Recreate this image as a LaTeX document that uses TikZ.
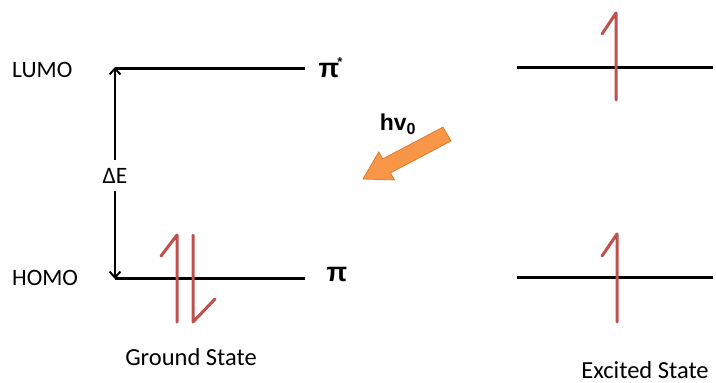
\documentclass[tikz,border=0pt]{standalone}
\usepackage{fontspec}
\setmainfont{Carlito}
\newfontfamily\arialfont{Liberation Sans}
\usetikzlibrary{arrows.meta,calc}
\definecolor{elred}{HTML}{C0504D}
\definecolor{orfill}{HTML}{F79646}
\definecolor{ordraw}{HTML}{E07A30}
\tikzset{
  level/.style={line width=3pt,black},
  spin/.style={line width=3pt,elred,line join=round,line cap=round},
  lbl/.style={font=\fontsize{23.5}{25}\selectfont,inner sep=0pt},
  captxt/.style={font=\fontsize{24.5}{26}\selectfont,inner sep=0pt},
  orb/.style={font=\arialfont\fontsize{27}{28}\selectfont\bfseries,inner sep=0pt},
}
\begin{document}
\begin{tikzpicture}[x=1pt,y=-1pt]
\useasboundingbox (0,0) rectangle (716,383);
% levels
\coordinate (gL1) at (115,68);
\coordinate (gL2) at (305,68);
\coordinate (gH1) at (115,278);
\coordinate (gH2) at (305,278);
\coordinate (eL1) at (517,67);
\coordinate (eL2) at (713,67);
\coordinate (eH1) at (517,277);
\coordinate (eH2) at (713,277);
\draw[level] (gL1) -- (gL2);
\draw[level] (gH1) -- (gH2);
\draw[level] (eL1) -- (eL2);
\draw[level] (eH1) -- (eH2);
% labels
\node[lbl,anchor=base west] (lumo) at (12,77) {LUMO};
\node[lbl,anchor=base west] (homo) at (12,285) {HOMO};
\node[orb] (pistar) at (329,70) {π};
\node[font=\arialfont\fontsize{13}{13}\selectfont\bfseries,inner sep=0pt] (star) at (340,62) {*};
\node[orb] (pi) at (337,274) {π};
% Delta E arrow
\node[lbl,fill=white,inner ysep=8pt,anchor=base] (dE) at (115,183) {ΔE};
\draw[line width=2pt,-{Straight Barb[length=6pt,width=11pt]}] (dE.north) -- ($(gL1)+(0,-1)$);
\draw[line width=2pt,-{Straight Barb[length=6pt,width=11pt]}] (dE.south) -- ($(gH1)+(0,1)$);
% ground state electrons
\coordinate (u1t) at (177,235);
\coordinate (u1b) at (177,322);
\coordinate (u1w) at (161,256);
\draw[spin] (u1w) -- (u1t) -- (u1b);
\coordinate (d1t) at (193,235);
\coordinate (d1b) at (193,322);
\coordinate (d1w) at (215,299);
\draw[spin] (d1t) -- (d1b) -- (d1w);
% excited state electrons
\coordinate (u2t) at (616,13);
\coordinate (u2b) at (616,100);
\coordinate (u2w) at (602,34);
\draw[spin] (u2w) -- (u2t) -- (u2b);
\coordinate (u3t) at (617,234);
\coordinate (u3b) at (617,322);
\coordinate (u3w) at (602,256);
\draw[spin] (u3w) -- (u3t) -- (u3b);
% photon arrow
\draw[ordraw,fill=orfill,line width=0.8pt,line join=miter]
  (450.9,141) -- (390.5,172.9) -- (394.4,179.9) -- (363,179)
  -- (378.8,151.9) -- (382.7,158.9) -- (443.1,127.1) -- cycle;
\node[font=\arialfont\fontsize{23}{26}\selectfont\bfseries,inner sep=0pt] (hv) at (398,124) {hv\textsubscript{0}};
% state captions
\node[captxt,anchor=base] (gs) at (191,365) {Ground State};
\node[captxt,anchor=base] (es) at (645,378) {Excited State};
\end{tikzpicture}
\end{document}
